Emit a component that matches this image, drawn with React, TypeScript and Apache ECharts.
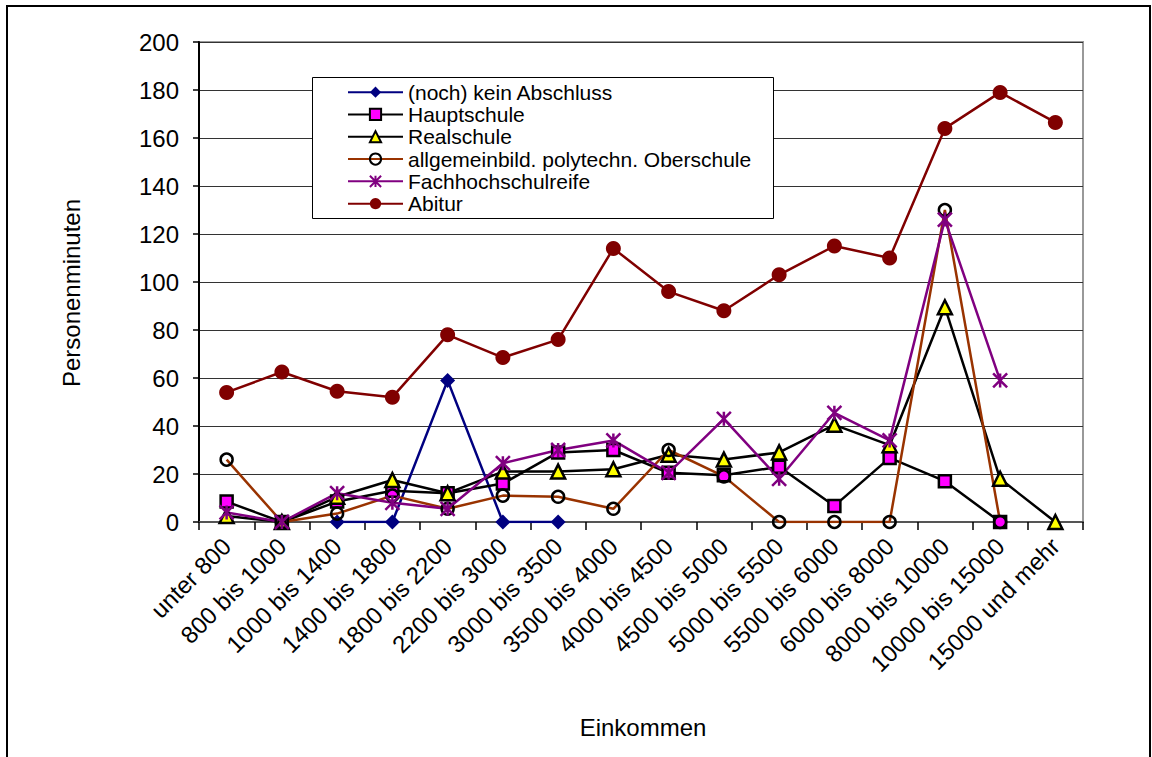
import React, { useEffect, useRef } from "react";
import * as echarts from "echarts";

const categories = [
  "unter 800", "800 bis 1000", "1000 bis 1400", "1400 bis 1800", "1800 bis 2200",
  "2200 bis 3000", "3000 bis 3500", "3500 bis 4000", "4000 bis 4500", "4500 bis 5000",
  "5000 bis 5500", "5500 bis 6000", "6000 bis 8000", "8000 bis 10000", "10000 bis 15000",
  "15000 und mehr",
];

const keinAbschluss = [null, null, 0, 0, 59, 0, 0, null, null, null, null, null, null, null, null, null];
const hauptschule = [8.5, 0, 8.5, 13, 12, 16, 29, 30, 20.5, 19.5, 23, 6.7, 26.7, 17, 0, null];
const realschule = [2.5, 0, 10.5, 17.5, 12, 21, 21, 22, 28, 26, 29, 40.5, 32, 89.5, 18, 0];
const oberschule = [26, 0, 3.5, 11, 5.5, 11, 10.5, 5.5, 30, 19, 0, 0, 0, 130, 0, null];
const fachhochschulreife = [4, 0, 12, 8, 5.5, 24.5, 30, 34, 20.5, 43, 18, 45.5, 34, 126, 59, null];
const abitur = [54, 62.5, 54.5, 52, 78, 68.5, 76, 114, 96, 88, 103, 115, 110, 164, 179, 166.5];

const yTicks = { min: 0, max: 200, interval: 20 };
const FONT = '"Liberation Sans", Arial, sans-serif';
const ASTERISK = "path://M0,0 L10,10 M0,10 L10,0 M5,0 L5,10";

export default function App() {
  const ref = useRef<HTMLDivElement>(null);

  useEffect(() => {
    document.body.style.margin = "0";
    if (!ref.current) return;
    const chart = echarts.init(ref.current, undefined, { renderer: "svg" });

    const names = [
      "(noch) kein Abschluss",
      "Hauptschule",
      "Realschule",
      "allgemeinbild. polytechn. Oberschule",
      "Fachhochschulreife",
      "Abitur",
    ];

    chart.setOption({
      animation: false,
      backgroundColor: "#ffffff",
      textStyle: { fontFamily: FONT },
      grid: {
        left: 199,
        right: 69,
        top: 42,
        bottom: 235,
        show: true,
        borderColor: "#999999",
        borderWidth: 2,
        backgroundColor: "rgba(0,0,0,0)",
      },
      legend: {
        data: names,
        orient: "vertical",
        left: 347,
        top: 81,
        padding: 0,
        itemGap: 0,
        itemWidth: 55,
        itemHeight: 14,
        z: 5,
        textStyle: { fontSize: 21, color: "#000", fontFamily: FONT, lineHeight: 22.3 },
        selectedMode: false,
      },
      xAxis: {
        type: "category",
        data: categories,
        boundaryGap: true,
        axisLine: { show: true, lineStyle: { color: "#555555", width: 2 } },
        axisTick: { show: true, length: 8, lineStyle: { color: "#000", width: 1.5 }, alignWithLabel: false },
        axisLabel: {
          interval: 0,
          rotate: 45,
          margin: 20,
          fontSize: 24,
          color: "#000",
          fontFamily: FONT,
        },
        splitLine: { show: false },
      },
      yAxis: {
        type: "value",
        min: yTicks.min,
        max: yTicks.max,
        interval: yTicks.interval,
        axisLine: { show: true, lineStyle: { color: "#000", width: 2 } },
        axisTick: { show: true, length: 6, lineStyle: { color: "#000", width: 1.5 } },
        axisLabel: { margin: 20, fontSize: 24, color: "#000", fontFamily: FONT },
        splitLine: { show: true, lineStyle: { color: "#333333", width: 1 } },
      },
      graphic: [
        {
          type: "rect",
          silent: true,
          z: 0,
          shape: { x: 7, y: 6, width: 1143, height: 800 },
          style: { fill: "none", stroke: "#000", lineWidth: 2 },
        },
        {
          type: "rect",
          silent: true,
          z: 4,
          shape: { x: 312.5, y: 77.5, width: 461, height: 141 },
          style: { fill: "#ffffff", stroke: "#000", lineWidth: 1 },
        },
        {
          type: "text",
          silent: true,
          x: 71,
          y: 293,
          rotation: Math.PI / 2,
          style: {
            text: "Personenminuten",
            fontSize: 24,
            fontFamily: FONT,
            fill: "#000",
            align: "center",
            verticalAlign: "middle",
            textAlign: "center",
            textVerticalAlign: "middle",
          },
        },
        {
          type: "text",
          silent: true,
          x: 643,
          y: 727,
          style: {
            text: "Einkommen",
            fontSize: 24,
            fontFamily: FONT,
            fill: "#000",
            align: "center",
            verticalAlign: "middle",
            textAlign: "center",
            textVerticalAlign: "middle",
          },
        },
      ],
      series: [
        {
          name: names[0],
          type: "line",
          data: keinAbschluss,
          symbol: "diamond",
          symbolSize: 15,
          lineStyle: { color: "#000080", width: 2.5 },
          itemStyle: { color: "#000080" },
        },
        {
          name: names[1],
          type: "line",
          data: hauptschule,
          symbol: "rect",
          symbolSize: 12,
          lineStyle: { color: "#000000", width: 2.5 },
          itemStyle: { color: "#ff00ff", borderColor: "#000", borderWidth: 2.5 },
        },
        {
          name: names[2],
          type: "line",
          data: realschule,
          symbol: "triangle",
          symbolSize: 14,
          lineStyle: { color: "#000000", width: 2.5 },
          itemStyle: { color: "#ffff00", borderColor: "#000", borderWidth: 2.5 },
        },
        {
          name: names[3],
          type: "line",
          data: oberschule,
          symbol: "circle",
          symbolSize: 12,
          lineStyle: { color: "#993300", width: 2.5 },
          itemStyle: { color: "rgba(255,255,255,0)", borderColor: "#000", borderWidth: 2.5 },
        },
        {
          name: names[4],
          type: "line",
          data: fachhochschulreife,
          symbol: ASTERISK,
          symbolSize: 14,
          lineStyle: { color: "#800080", width: 2.5 },
          itemStyle: { color: "#800080", borderColor: "#800080", borderWidth: 2.5 },
        },
        {
          name: names[5],
          type: "line",
          data: abitur,
          symbol: "circle",
          symbolSize: 15,
          lineStyle: { color: "#800000", width: 2.5 },
          itemStyle: { color: "#800000" },
        },
      ],
    });

    return () => chart.dispose();
  }, []);

  return <div ref={ref} style={{ width: 1152, height: 757 }} />;
}
